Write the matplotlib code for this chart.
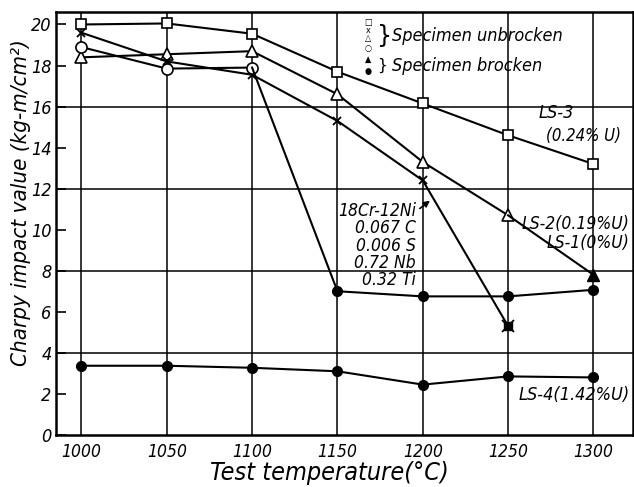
import numpy as np
import matplotlib
matplotlib.use('Agg')
import matplotlib.pyplot as plt

# ============================================================================ #
# data

temps = [1000, 1050, 1100, 1150, 1200, 1250, 1300]

# open squares, LS-3 (0.24% U)
ls3 = [20.0, 20.05, 19.55, 17.7, 16.15, 14.6, 13.2]
# open triangles, last one broken
ls2 = [18.4, 18.55, 18.7, 16.6, 13.3, 10.7, 7.8]
# crosses, last one broken
ls1 = [19.6, 18.2, 17.55, 15.3, 12.4, 5.3]
# circles, broken from 1150 on
base = [18.9, 17.85, 17.9, 7.0, 6.75, 6.75, 7.07]
# LS-4 (1.42% U), all broken
ls4 = [3.37, 3.37, 3.27, 3.1, 2.45, 2.85, 2.8]

yticks = list(range(0, 21, 2))
grid_levels = [4, 8, 12, 16]

# ============================================================================ #

plt.rcParams['font.family'] = ['DejaVu Sans']
plt.rcParams['font.stretch'] = 'condensed'
plt.rcParams['font.style'] = 'italic'

fig = plt.figure(figsize=(6.34, 4.87), dpi=100)
ax = fig.add_axes([0.088, 0.107, 0.91, 0.868])

lw = 1.5
k = 'black'

# lines
ax.plot(temps, ls3, color=k, lw=lw, marker='s', ms=7, mfc='white', mec=k, mew=1.2)
ax.plot(temps[:-1], ls2[:-1], color=k, lw=lw, marker='^', ms=8, mfc='white', mec=k, mew=1.2)
ax.plot(temps[-2:], ls2[-2:], color=k, lw=lw)
ax.plot(temps[-1], ls2[-1], color=k, marker='^', ms=8, ls='none')
ax.plot(temps[:len(ls1) - 1], ls1[:-1], color=k, lw=lw, marker='x', ms=6, mew=1.3)
ax.plot(temps[len(ls1) - 2:len(ls1)], ls1[-2:], color=k, lw=lw)
ax.plot(temps[len(ls1) - 1], ls1[-1], color=k, marker='s', ms=6, ls='none')
ax.plot(temps[len(ls1) - 1], ls1[-1], color=k, marker='x', ms=9, mew=1.3, ls='none')
ax.plot(temps[:3], base[:3], color=k, lw=lw, marker='o', ms=8, mfc='white', mec=k, mew=1.2)
ax.plot(temps[2:], base[2:], color=k, lw=lw)
ax.plot(temps[3:], base[3:], color=k, marker='o', ms=7, ls='none')
ax.plot(temps, ls4, color=k, lw=lw, marker='o', ms=7)

# axes and grid
ax.set_xlim(985, 1323)
ax.set_ylim(0, 20.6)
ax.set_xticks(temps)
ax.set_xticklabels([str(t) for t in temps], fontsize=12.5)
ax.set_yticks(yticks)
ax.set_yticklabels([str(v) for v in yticks], fontsize=13)
ax.tick_params(axis='y', direction='in', length=7, width=1.2, pad=3)
ax.tick_params(axis='x', length=0, pad=6)
ax.xaxis.grid(True, color=k, lw=1.1)
for g in grid_levels:
    ax.axhline(g, color=k, lw=1.1, zorder=0.5)
for s in ax.spines.values():
    s.set_linewidth(1.8)

ax.set_xlabel('Test temperature(°C)', fontsize=18, labelpad=0)
ax.xaxis.label.set_x(0.475)
ax.set_ylabel('Charpy impact value (kg-m/cm²)', fontsize=16, labelpad=0)
ax.yaxis.label.set_y(0.55)

# legend drawn by hand, as in the original
lx = 0.541
for sym, yy in zip(['□', 'x', '△', '○'], [0.975, 0.956, 0.937, 0.915]):
    ax.text(lx, yy, sym, transform=ax.transAxes, fontsize=6.5, ha='center',
            va='center', family='DejaVu Sans', style='normal')
for sym, yy in zip(['▲', '●'], [0.888, 0.860]):
    ax.text(lx, yy, sym, transform=ax.transAxes, fontsize=6.5, ha='center',
            va='center', family='DejaVu Sans', style='normal')
ax.text(0.556, 0.944, '}', transform=ax.transAxes, fontsize=17, va='center',
        family='DejaVu Sans', style='normal', stretch='normal')
ax.text(0.556, 0.874, '}', transform=ax.transAxes, fontsize=11, va='center',
        family='DejaVu Sans', style='normal', stretch='normal')
ax.text(0.583, 0.944, 'Specimen unbrocken', transform=ax.transAxes,
        fontsize=13, va='center')
ax.text(0.583, 0.872, 'Specimen brocken', transform=ax.transAxes,
        fontsize=13, va='center')

# annotations
ax.text(1268, 15.7, 'LS-3', fontsize=13, ha='left', va='center')
ax.text(1272, 14.55, '(0.24% U)', fontsize=12, ha='left', va='center')
ax.text(1321, 10.3, 'LS-2(0.19%U)', fontsize=12.5, ha='right', va='center')
ax.text(1321, 9.35, 'LS-1(0%U)', fontsize=12.5, ha='right', va='center')
ax.text(1321, 1.95, 'LS-4(1.42%U)', fontsize=13, ha='right', va='center')
ax.text(1196, 11.35, '18Cr-12Ni\n0.067 C\n0.006 S\n0.72 Nb\n0.32 Ti',
        fontsize=12.5, ha='right', va='top', linespacing=0.95)
ax.annotate('', xy=(1205.5, 11.5), xytext=(1197, 10.95),
            arrowprops=dict(arrowstyle='-|>', color=k, lw=1.2,
                            mutation_scale=9))

fig.savefig('out.png', dpi=100)
